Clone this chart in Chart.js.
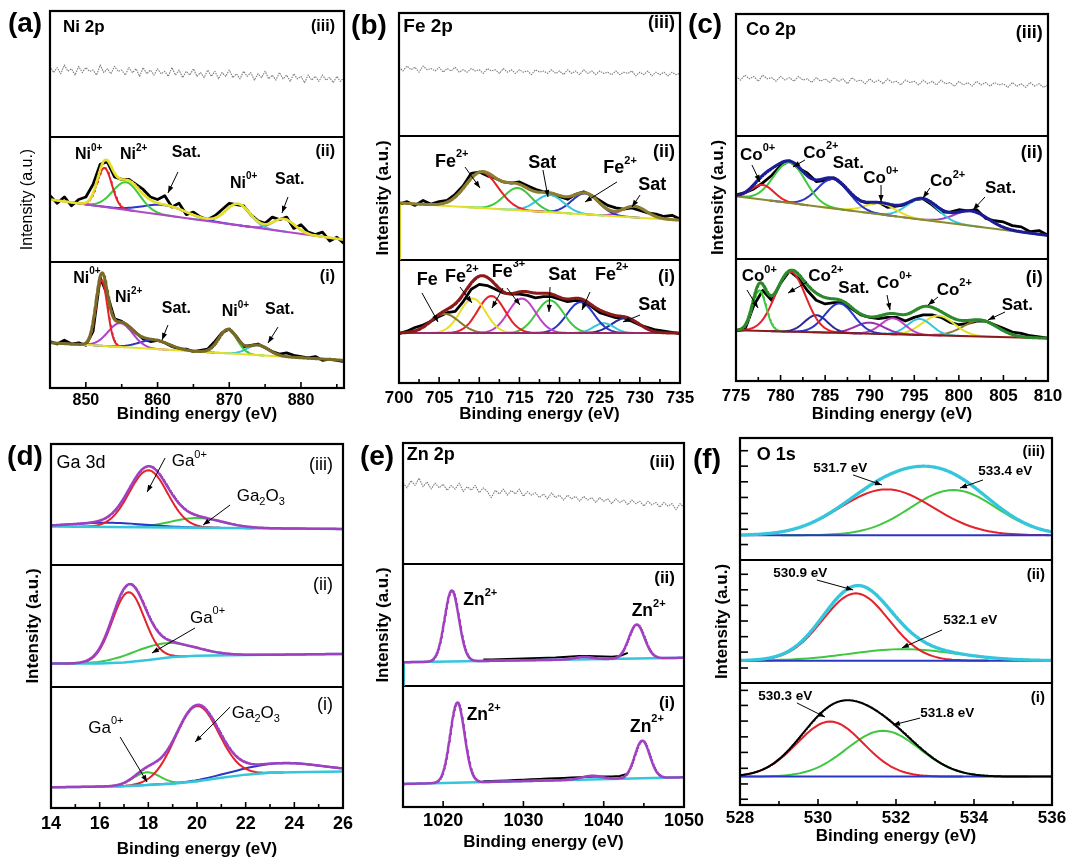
<!DOCTYPE html>
<html><head><meta charset="utf-8">
<script src="https://cdn.jsdelivr.net/npm/chart.js@4.4.1/dist/chart.umd.min.js"></script>
<style>
html,body{margin:0;padding:0;background:#fff;}
body{width:1066px;height:859px;position:relative;overflow:hidden;}
canvas{position:absolute;}
</style></head><body>
<canvas id="pa"></canvas><canvas id="pb"></canvas><canvas id="pc"></canvas>
<canvas id="pd"></canvas><canvas id="pe"></canvas><canvas id="pf"></canvas>
<script>
// ===================== DATA (values in units of one sub-panel height) =====================
// ---- (a) Ni 2p ----
const niRange = [845, 886];
const niIII_noise = [0.56,0.51,0.55,0.50,0.57,0.52,0.54,0.49,0.56,0.51,0.55,0.52,0.53,0.49,0.57,0.51,0.54,0.50,0.56,0.52,0.53,0.49,0.55,0.51,0.54,0.48,0.55,0.50,0.53,0.49,0.54,0.50,0.52,0.48,0.55,0.49,0.53,0.47,0.52,0.49,0.54,0.48,0.51,0.47,0.53,0.48,0.52,0.46,0.51,0.48,0.53,0.47,0.50,0.46,0.52,0.48,0.51,0.45,0.50,0.47,0.52,0.46,0.49,0.45,0.51,0.46,0.49,0.44,0.50,0.46,0.48,0.43,0.49,0.45,0.48,0.44,0.49,0.45,0.47,0.43,0.48,0.44,0.47];
const niII_data = [0.53,0.47,0.52,0.45,0.50,0.52,0.62,0.78,0.80,0.68,0.66,0.66,0.62,0.58,0.52,0.50,0.53,0.44,0.47,0.38,0.40,0.36,0.34,0.37,0.42,0.47,0.46,0.45,0.38,0.33,0.31,0.36,0.34,0.36,0.27,0.30,0.24,0.22,0.24,0.17,0.20,0.15];
const niII_bg = [0.50, 0.18];
const niII_cen = [852.6, 855.6, 861.0, 871.2, 877.6];
const niII_hgt = [0.31, 0.22, 0.08, 0.17, 0.10];
const niII_fwhm = [2.4, 4.4, 7.0, 4.0, 3.6];
const niI_data = [0.37,0.35,0.38,0.35,0.36,0.34,0.45,0.88,0.74,0.55,0.53,0.49,0.44,0.39,0.37,0.38,0.36,0.33,0.31,0.31,0.29,0.30,0.31,0.37,0.44,0.47,0.41,0.33,0.34,0.35,0.32,0.29,0.27,0.28,0.26,0.25,0.24,0.25,0.22,0.23,0.22,0.21];
const niI_bg = [0.36, 0.22];
const niI_cen = [852.2, 854.8, 859.5, 869.8, 874.0];
const niI_hgt = [0.52, 0.19, 0.07, 0.19, 0.08];
const niI_fwhm = [1.9, 4.0, 5.0, 3.0, 3.5];

// ---- (b) Fe 2p ----
const feRange = [700, 735];
const feIII_noise = [0.56,0.53,0.57,0.54,0.56,0.52,0.57,0.54,0.55,0.53,0.56,0.52,0.55,0.53,0.56,0.52,0.54,0.52,0.55,0.53,0.54,0.51,0.55,0.53,0.54,0.51,0.55,0.52,0.54,0.51,0.54,0.52,0.53,0.50,0.54,0.52,0.53,0.51,0.54,0.51,0.53,0.50,0.54,0.51,0.53,0.50,0.54,0.51,0.53,0.50,0.53,0.51,0.52,0.50,0.53,0.50,0.52,0.51,0.53,0.49,0.52,0.50,0.53,0.49,0.52,0.50,0.52,0.49,0.52,0.50,0.51];
const feII_data = [0.45,0.47,0.44,0.48,0.45,0.47,0.48,0.53,0.60,0.70,0.71,0.68,0.66,0.63,0.62,0.63,0.60,0.57,0.55,0.53,0.51,0.49,0.53,0.55,0.52,0.48,0.44,0.42,0.41,0.42,0.40,0.38,0.37,0.35,0.36,0.33];
const feII_bg = [0.46, 0.32];
const feII_cen = [710.3, 714.8, 718.8, 723.2, 729.3];
const feII_hgt = [0.29, 0.18, 0.14, 0.17, 0.09];
const feII_fwhm = [4.8, 4.0, 4.0, 4.0, 3.5];
const feI_data = [0.40,0.42,0.45,0.47,0.50,0.54,0.57,0.58,0.66,0.76,0.80,0.79,0.76,0.73,0.72,0.72,0.71,0.69,0.70,0.70,0.68,0.66,0.67,0.66,0.62,0.57,0.55,0.53,0.53,0.50,0.47,0.45,0.43,0.42,0.41,0.40];
const feI_bg = [0.405, 0.405];
const feI_cen = [705.7, 709.2, 711.5, 715.3, 718.8, 722.6, 725.5, 728.2];
const feI_hgt = [0.155, 0.28, 0.30, 0.28, 0.265, 0.25, 0.08, 0.12];
const feI_fwhm = [4.2, 3.8, 4.0, 4.0, 4.0, 4.0, 3.0, 4.0];

// ---- (c) Co 2p ----
const coRange = [775, 810];
const coIII_noise = [0.49,0.46,0.50,0.47,0.49,0.45,0.50,0.47,0.48,0.45,0.49,0.46,0.48,0.45,0.49,0.46,0.47,0.44,0.48,0.45,0.47,0.44,0.48,0.45,0.47,0.43,0.48,0.45,0.46,0.43,0.47,0.44,0.46,0.43,0.47,0.44,0.45,0.42,0.46,0.44,0.45,0.42,0.46,0.43,0.45,0.42,0.46,0.43,0.44,0.41,0.45,0.42,0.44,0.41,0.45,0.42,0.44,0.41,0.44,0.42,0.43,0.40,0.44,0.41,0.43,0.40,0.44,0.41,0.43,0.40,0.42];
const coII_data = [0.52,0.54,0.57,0.62,0.68,0.76,0.80,0.74,0.70,0.63,0.64,0.66,0.60,0.52,0.47,0.45,0.46,0.42,0.43,0.44,0.48,0.49,0.44,0.38,0.38,0.40,0.39,0.40,0.33,0.31,0.30,0.27,0.26,0.22,0.23,0.19];
const coII_bg = [0.51, 0.19];
const coII_cen = [778.0, 781.0, 785.9, 791.2, 795.9, 801.4];
const coII_hgt = [0.12, 0.33, 0.24, 0.09, 0.17, 0.12];
const coII_fwhm = [3.0, 4.2, 4.2, 4.0, 4.0, 4.5];
const coI_data = [0.41,0.42,0.62,0.74,0.66,0.80,0.90,0.84,0.74,0.66,0.63,0.64,0.64,0.59,0.54,0.52,0.51,0.52,0.52,0.49,0.52,0.54,0.54,0.52,0.48,0.46,0.47,0.49,0.49,0.46,0.43,0.40,0.39,0.37,0.36,0.35];
const coI_bg = [0.415, 0.35];
const coI_cen = [777.6, 781.1, 784.0, 786.6, 790.0, 792.6, 795.6, 797.7, 802.4];
const coI_hgt = [0.33, 0.49, 0.14, 0.24, 0.09, 0.13, 0.13, 0.16, 0.13];
const coI_fwhm = [1.8, 4.0, 3.0, 3.8, 3.8, 3.2, 3.2, 4.2, 4.5];

// ---- (d) Ga 3d ----
const gaRange = [14, 26];
const gaIII_bgX = [14, 26];
const gaIII_bgY = [0.32, 0.30];
const gaIII_cen = [18.0, 16.4, 20.0];
const gaIII_hgt = [0.47, 0.035, 0.08];
const gaIII_fwhm = [1.85, 3.5, 2.5];
const gaII_bgX = [14, 16, 17, 18, 19, 20, 22, 26];
const gaII_bgY = [0.19, 0.19, 0.20, 0.22, 0.245, 0.255, 0.26, 0.27];
const gaII_cen = [17.18, 18.6];
const gaII_hgt = [0.575, 0.12];
const gaII_fwhm = [1.55, 3.0];
const gaI_bgX = [14, 17, 19, 20, 21, 22, 23, 24, 26];
const gaI_bgY = [0.17, 0.18, 0.20, 0.22, 0.25, 0.275, 0.29, 0.295, 0.30];
const gaI_cen = [19.99, 17.93, 23.5];
const gaI_hgt = [0.62, 0.105, 0.077];
const gaI_fwhm = [2.1, 1.3, 4.0];

// ---- (e) Zn 2p ----
const znRange = [1015, 1050];
const znIII_noise = [0.67,0.63,0.69,0.65,0.71,0.64,0.68,0.62,0.67,0.63,0.66,0.61,0.65,0.62,0.67,0.60,0.64,0.61,0.65,0.59,0.63,0.60,0.55,0.61,0.58,0.62,0.57,0.61,0.58,0.62,0.56,0.60,0.57,0.59,0.55,0.58,0.54,0.59,0.55,0.57,0.53,0.57,0.54,0.56,0.52,0.56,0.53,0.55,0.51,0.55,0.52,0.54,0.50,0.54,0.51,0.53,0.49,0.53,0.50,0.52,0.48,0.52,0.49,0.51,0.47,0.51,0.48,0.50,0.45,0.50,0.47];
const znII_bg = [0.193, 0.23];
const znII_cen = [1021.07, 1037.5, 1044.1];
const znII_hgt = [0.585, 0.02, 0.28];
const znII_fwhm = [2.1, 2.5, 2.3];
const znII_data = [0.215,0.215,0.218,0.22,0.222,0.224,0.226,0.228,0.23,0.232,0.236,0.24,0.244,0.244,0.242,0.24,0.238,0.245,0.27];
const znI_bg = [0.19, 0.245];
const znI_cen = [1021.77, 1038.5, 1044.8];
const znI_hgt = [0.66, 0.03, 0.31];
const znI_fwhm = [2.1, 3.0, 2.2];
const znI_data = [0.212,0.214,0.216,0.219,0.222,0.225,0.228,0.231,0.234,0.237,0.24,0.243,0.246,0.25,0.252,0.252,0.252,0.256,0.275];

// ---- (f) O 1s ----
const oRange = [528, 536];
const oIII_bg = [0.205, 0.205];
const oIII_cen = [531.76, 533.47];
const oIII_hgt = [0.375, 0.37];
const oIII_fwhm = [2.8, 2.6];
const oII_bg = [0.18, 0.18];
const oII_cen = [530.97, 532.19];
const oII_hgt = [0.55, 0.094];
const oII_fwhm = [2.0, 3.2];
const oI_bg = [0.232, 0.232];
const oI_cen = [530.31, 531.67];
const oI_hgt = [0.45, 0.375];
const oI_fwhm = [2.0, 2.2];
const oTickOffsets = [[0.047,0.172,0.30,0.43,0.557,0.686,0.814,0.937],[0.12,0.25,0.376,0.504,0.632,0.759,0.886],[0.129,0.254,0.383,0.514,0.642,0.770,0.896]];

// ---- annotation text (x in eV, y in panel units: (i)=0-1, (ii)=1-2, (iii)=2-3) ----
const niLabels = [['Ni 2p',846.81,2.873,17],['(iii)',884.74,2.873,16,'r'],['(ii)',884.74,1.878,16,'r'],['(i)',884.74,0.883,16,'r'],
 ['Ni^{0+}',848.49,1.854],['Ni^{2+}',854.76,1.854],['Sat.',861.97,1.870],['Ni^{0+}',870.10,1.629],['Sat.',876.38,1.655],
 ['Ni^{0+}',848.25,0.873],['Ni^{2+}',854.06,0.719],['Sat.',860.58,0.634],['Ni^{0+}',868.94,0.607],['Sat.',874.98,0.621]];
const niArrows = [[862.85,1.719,861.45,1.552],[878.19,1.520,877.35,1.393],[861.45,0.501,860.62,0.382],[876.80,0.485,875.40,0.358]];
const feLabels = [['Fe 2p',700.54,2.889,19],['(iii)',734.38,2.919,18,'r'],['(ii)',734.38,1.873,18,'r'],['(i)',734.38,0.859,18,'r'],
 ['Fe^{2+}',704.48,1.794],['Sat',716.11,1.781],['Fe^{2+}',725.45,1.741],['Sat',729.81,1.605],
 ['Fe',702.20,0.835],['Fe^{2+}',705.73,0.862],['Fe^{3+}',711.54,0.903],['Sat',718.60,0.876],['Fe^{2+}',724.41,0.876],['Sat',729.81,0.632]];
const feArrows = [[708.22,1.751,710.09,1.581],[717.93,1.727,718.56,1.508],[727.15,1.630,723.17,1.468],[730.02,1.524,729.02,1.427],
 [702.86,0.730,704.86,0.495],[707.60,0.778,709.09,0.649],[712.95,0.770,711.58,0.608],[713.45,0.770,715.07,0.632],[718.81,0.778,718.68,0.576],[723.79,0.738,722.79,0.592],[730.02,0.551,727.90,0.495]];
const coLabels = [['Co 2p',776.12,2.869,18],['(iii)',809.40,2.845,18,'r'],['(ii)',809.40,1.864,18,'r'],['(i)',809.40,0.842,18,'r'],
 ['Co^{0+}',775.45,1.847],['Co^{2+}',782.55,1.861],['Sat.',785.85,1.780],['Co^{0+}',789.28,1.657],['Co^{2+}',796.76,1.629],['Sat.',802.93,1.575],
 ['Co^{0+}',775.64,0.853],['Co^{2+}',783.11,0.853],['Sat.',786.48,0.758],['Co^{0+}',790.78,0.799],['Co^{2+}',797.51,0.744],['Sat.',804.81,0.621]];
const coArrows = [[776.79,1.766,777.69,1.627],[782.74,1.807,781.39,1.749],[791.27,1.602,791.27,1.463],[796.76,1.578,795.98,1.496],[802.93,1.504,801.59,1.398],
 [776.23,0.744,777.47,0.597],[782.97,0.809,780.83,0.719],[791.94,0.703,792.28,0.580],[797.66,0.687,796.54,0.621],[805.18,0.564,803.27,0.499]];
const gaLabels = [['Ga 3d',14.23,2.841,18],['(iii)',25.59,2.827,18,'r'],['(ii)',25.59,1.838,18,'r'],['(i)',25.59,0.849,18,'r'],
 ['Ga^{0+}',18.96,2.854],['Ga_{2}O_{3}',21.63,2.566],['Ga^{0+}',19.71,1.563],['Ga^{0+}',15.53,0.657],['Ga_{2}O_{3}',21.43,0.780]];
const gaArrows = [[18.69,2.885,17.95,2.604],[21.36,2.497,20.25,2.332],[19.92,1.484,18.15,1.277],[16.84,0.585,17.95,0.214],[21.36,0.832,19.92,0.544]];
const znLabels = [['Zn 2p',1015.46,2.901,18],['(iii)',1048.88,2.843,17,'r'],['(ii)',1048.88,1.887,17,'r'],['(i)',1048.88,0.857,17,'r'],
 ['Zn^{2+}',1022.51,1.706],['Zn^{2+}',1043.48,1.610],['Zn^{2+}',1022.93,0.758],['Zn^{2+}',1043.27,0.662]];
const znArrows = [];
const oLabels = [['O 1s',528.43,2.861,18],['(iii)',535.82,2.886,15,'r'],['(ii)',535.82,1.880,15,'r'],['(i)',535.82,0.875,15,'r'],
 ['531.7 eV',529.88,2.752],['533.4 eV',534.11,2.725],['530.9 eV',528.85,1.894],['532.1 eV',533.21,1.512],['530.3 eV',528.47,0.885],['531.8 eV',532.62,0.750]];
const oArrows = [[530.90,2.698,531.64,2.616],[534.23,2.657,533.64,2.591],[529.97,1.839,530.90,1.758],[533.18,1.431,532.15,1.283],[529.46,0.834,530.18,0.719],[532.62,0.711,531.92,0.654]];

// ===================== STYLE =====================
const FONT = '"Liberation Sans", Arial, Helvetica, sans-serif';
const RED='#e3222a', GREEN='#3fc83f', BLUE='#2a36c4', CYAN='#36c6dc', MAG='#c040c8', PURP='#a040c0', YEL='#e6df2a', OLIVE='#8a7a2c', NAVY='#2a2a96';
Chart.defaults.font.family = FONT;
Chart.defaults.color = '#000';

function lin(x, bx, by) {
  if (x <= bx[0]) return by[0];
  for (let i = 1; i < bx.length; i++) if (x <= bx[i]) { const t = (x - bx[i-1]) / (bx[i] - bx[i-1]); return by[i-1] + t * (by[i] - by[i-1]); }
  return by[by.length - 1];
}
function peak(x, c, h, w) { return h * Math.exp(-4 * Math.LN2 * (x - c) * (x - c) / (w * w)); }

function addSub(out, s, range) {
  const off = s.off;
  const bx = s.bgX || range;
  const bgAt = x => lin(x, bx, s.bgY);
  if (s.noise) out.push({data: s.noise.map((v, i) => ({x: range[0] + i * 0.5, y: off + v})), borderColor: '#7c7c7c', borderWidth: 1.1, borderDash: [1.5, 1], order: 6});
  if (s.data) out.push({data: s.data.map((v, i) => ({x: s.dataX0 + i, y: off + v})), borderColor: '#000', borderWidth: s.dataW || 2, order: 5});
  if (s.cen && s.cols) {
    s.cen.forEach((c, k) => {
      const w = s.fwhm[k], pts = [];
      for (let j = 0; j <= 80; j++) { const x = c - 1.7 * w + j * 3.4 * w / 80; if (x < range[0] || x > range[1]) continue; pts.push({x, y: off + bgAt(x) + peak(x, c, s.hgt[k], w)}); }
      out.push({data: pts, borderColor: s.cols[k], borderWidth: 2, order: 4});
    });
  }
  if (s.bgCol) out.push({data: bx.map((x, i) => ({x, y: off + s.bgY[i]})), borderColor: s.bgCol, borderWidth: s.bgW || 2, order: 3});
  if (s.drop) out.push({data: [{x: range[0], y: off}, {x: range[0], y: off + s.bgY[0]}], borderColor: s.bgCol, borderWidth: 4, order: 3});
  if (s.cen && s.envCol) {
    const pts = [], N = 500;
    for (let j = 0; j <= N; j++) { const x = range[0] + j * (range[1] - range[0]) / N; let y = off + bgAt(x); s.cen.forEach((c, k) => { y += peak(x, c, s.hgt[k], s.fwhm[k]); }); pts.push({x, y}); }
    out.push({data: pts, borderColor: s.envCol, borderWidth: s.envW || 2.5, order: 1});
  }
}

function parseRich(s) {
  const out = []; const re = /([\^_])\{([^}]*)\}/g; let last = 0, m;
  while ((m = re.exec(s))) { if (m.index > last) out.push([0, s.slice(last, m.index)]); out.push([m[1] === '^' ? 1 : -1, m[2]]); last = re.lastIndex; }
  if (last < s.length) out.push([0, s.slice(last)]);
  return out;
}
function drawRich(ctx, s, x, y, size, weight, align) {
  const parts = parseRich(s);
  const fontOf = k => `${weight} ${k === 0 ? size : Math.round(size * 0.62)}px ${FONT}`;
  let w = 0; parts.forEach(p => { ctx.font = fontOf(p[0]); w += ctx.measureText(p[1]).width; });
  let cx = align === 'r' ? x - w : x;
  ctx.textAlign = 'left'; ctx.textBaseline = 'middle';
  parts.forEach(p => { ctx.font = fontOf(p[0]); const dy = p[0] === 1 ? -size * 0.42 : (p[0] === -1 ? size * 0.32 : 0); ctx.fillText(p[1], cx, y + dy); cx += ctx.measureText(p[1]).width; });
}
function arrow(ctx, x1, y1, x2, y2) {
  ctx.strokeStyle = '#000'; ctx.fillStyle = '#000'; ctx.lineWidth = 1;
  ctx.beginPath(); ctx.moveTo(x1, y1); ctx.lineTo(x2, y2); ctx.stroke();
  const a = Math.atan2(y2 - y1, x2 - x1), L = 7, W = 2.6;
  ctx.beginPath(); ctx.moveTo(x2, y2);
  ctx.lineTo(x2 - L * Math.cos(a) + W * Math.sin(a), y2 - L * Math.sin(a) - W * Math.cos(a));
  ctx.lineTo(x2 - L * Math.cos(a) - W * Math.sin(a), y2 - L * Math.sin(a) + W * Math.cos(a));
  ctx.closePath(); ctx.fill();
}
const isMajor = (v, m) => Math.abs(v / m - Math.round(v / m)) < 1e-6;

function decor(p) {
  return {id: 'decor_' + p.id, afterDraw(chart) {
    const {ctx, chartArea: a} = chart; const xs = chart.scales.x, ys = chart.scales.y;
    ctx.save();
    ctx.strokeStyle = '#000'; ctx.lineWidth = 1.6;
    xs.ticks.forEach(t => { const px = xs.getPixelForValue(t.value); if (px < a.left + 2 || px > a.right - 2) return; const L = t.label !== '' ? 6 : 4; ctx.beginPath(); ctx.moveTo(px, a.bottom); ctx.lineTo(px, a.bottom - L); ctx.stroke(); });
    if (p.yTicks) p.yTicks.forEach((arr, b) => arr.forEach(v => { const py = ys.getPixelForValue(b + v); ctx.beginPath(); ctx.moveTo(a.left, py); ctx.lineTo(a.left + 8, py); ctx.stroke(); }));
    ctx.lineWidth = 2.2; ctx.strokeRect(a.left, a.top, a.right - a.left, a.bottom - a.top);
    ctx.fillStyle = '#000';
    p.labels.forEach(L => drawRich(ctx, L[0], xs.getPixelForValue(L[1]), ys.getPixelForValue(L[2]), L[3] || p.labelSize, L[3] ? p.headWeight : p.labelWeight, L[4]));
    p.arrows.forEach(A => arrow(ctx, xs.getPixelForValue(A[0]), ys.getPixelForValue(A[1]), xs.getPixelForValue(A[2]), ys.getPixelForValue(A[3])));
    ctx.font = `bold 28px ${FONT}`; ctx.textAlign = 'center'; ctx.textBaseline = 'middle'; ctx.fillStyle = '#000';
    ctx.fillText(p.letter, p.letterPos[0], p.letterPos[1]);
    ctx.restore();
  }};
}

function buildPanel(p) {
  const cv = document.getElementById(p.id);
  cv.width = p.box[2]; cv.height = p.box[3];
  cv.style.left = p.box[0] + 'px'; cv.style.top = p.box[1] + 'px';
  cv.style.width = p.box[2] + 'px'; cv.style.height = p.box[3] + 'px';
  const datasets = [];
  p.subs.forEach(s => addSub(datasets, s, p.range));
  new Chart(cv, {
    type: 'line',
    data: {datasets},
    options: {
      responsive: false, animation: false, events: [],
      layout: {padding: {left: 0, top: p.padTop, right: p.padRight, bottom: 0}, autoPadding: false},
      elements: {point: {radius: 0}, line: {tension: 0, fill: false, borderJoinStyle: 'round'}},
      plugins: {legend: {display: false}, tooltip: {enabled: false}},
      scales: {
        x: {type: 'linear', position: 'bottom', min: p.range[0], max: p.range[1],
          grid: {display: false, drawTicks: false}, border: {display: false},
          ticks: {stepSize: p.step, includeBounds: false, autoSkip: false, maxRotation: 0, padding: p.tickPad,
            font: {size: p.tickSize, weight: 'bold'}, color: '#000', callback: v => isMajor(v, p.major) ? String(Math.round(v)) : ''},
          title: {display: true, text: 'Binding energy (eV)', font: {size: 17, weight: 'bold'}, color: '#000', padding: {top: 0, bottom: p.xTitlePad}},
          afterFit: s => { s.height = p.xH; s.paddingLeft = 0; s.paddingRight = 0; }},
        y: {type: 'linear', position: 'left', min: 0, max: 3,
          grid: {drawTicks: false, lineWidth: 2, color: c => (c.tick && (c.tick.value === 1 || c.tick.value === 2)) ? '#000' : 'rgba(0,0,0,0)'},
          border: {display: false},
          ticks: {display: false, stepSize: 1},
          title: {display: true, text: 'Intensity (a.u.)', font: {size: p.yTitleSize, weight: p.yTitleWeight}, color: '#000', padding: {top: p.yTitlePad, bottom: 0}},
          afterFit: s => { s.width = p.yW; }}
      }
    },
    plugins: [decor(p)]
  });
}

// ===================== PANELS =====================
buildPanel({id: 'pa', box: [0, 0, 360, 432], yW: 50, padTop: 11, padRight: 16, xH: 44, range: niRange, step: 5, major: 10,
  tickSize: 16, tickPad: 3, xTitlePad: 7, yTitleSize: 16, yTitleWeight: 'normal', yTitlePad: 18,
  labels: niLabels, arrows: niArrows, labelSize: 16, labelWeight: 'bold', headWeight: 'bold', letter: '(a)', letterPos: [25, 24],
  subs: [
    {off: 2, noise: niIII_noise},
    {off: 1, bgY: niII_bg, bgCol: '#b048c8', cen: niII_cen, hgt: niII_hgt, fwhm: niII_fwhm, cols: [RED, GREEN, BLUE, CYAN, '#a050d0'], envCol: YEL, data: niII_data, dataX0: 845, dataW: 2.8},
    {off: 0, bgY: niI_bg, bgCol: YEL, cen: niI_cen, hgt: niI_hgt, fwhm: niI_fwhm, cols: [RED, '#b040d0', BLUE, GREEN, CYAN], envCol: '#7a6a28', envW: 3, data: niI_data, dataX0: 845, dataW: 2.8}
  ]});

buildPanel({id: 'pb', box: [345, 0, 355, 432], yW: 54, padTop: 13, padRight: 20, xH: 49, range: feRange, step: 2.5, major: 5,
  tickSize: 17, tickPad: 5, xTitlePad: 7, yTitleSize: 17, yTitleWeight: 'bold', yTitlePad: 28,
  labels: feLabels, arrows: feArrows, labelSize: 18, labelWeight: 'bold', headWeight: 'bold', letter: '(b)', letterPos: [24, 26],
  subs: [
    {off: 2, noise: feIII_noise},
    {off: 1, bgY: feII_bg, bgCol: YEL, drop: true, cen: feII_cen, hgt: feII_hgt, fwhm: feII_fwhm, cols: [RED, GREEN, CYAN, BLUE, MAG], envCol: '#8c7e2e', envW: 3, data: feII_data, dataX0: 700, dataW: 2.8},
    {off: 0, bgY: feI_bg, bgCol: '#9a2a6a', cen: feI_cen, hgt: feI_hgt, fwhm: feI_fwhm, cols: [OLIVE, YEL, RED, MAG, GREEN, BLUE, CYAN, NAVY], envCol: '#8b1a1a', envW: 3, data: feI_data, dataX0: 700, dataW: 2.8}
  ]});

buildPanel({id: 'pc', box: [680, 0, 386, 432], yW: 56, padTop: 14, padRight: 18, xH: 51, range: coRange, step: 2.5, major: 5,
  tickSize: 17, tickPad: 5, xTitlePad: 7, yTitleSize: 17, yTitleWeight: 'bold', yTitlePad: 28,
  labels: coLabels, arrows: coArrows, labelSize: 17, labelWeight: 'bold', headWeight: 'bold', letter: '(c)', letterPos: [25, 25],
  subs: [
    {off: 2, noise: coIII_noise},
    {off: 1, bgY: coII_bg, bgCol: '#8a8a32', cen: coII_cen, hgt: coII_hgt, fwhm: coII_fwhm, cols: [RED, GREEN, BLUE, YEL, CYAN, '#a040c8'], envCol: '#1c1c96', envW: 3, data: coII_data, dataX0: 775, dataW: 2.8},
    {off: 0, bgY: coI_bg, bgCol: '#8b1a1a', cen: coI_cen, hgt: coI_hgt, fwhm: coI_fwhm, cols: [GREEN, RED, NAVY, BLUE, '#9a30b0', MAG, CYAN, YEL, OLIVE], envCol: '#2a8a2a', envW: 3, data: coI_data, dataX0: 775, dataW: 2.8}
  ]});

buildPanel({id: 'pd', box: [0, 425, 360, 445], yW: 51, padTop: 19, padRight: 17, xH: 62, range: gaRange, step: 1, major: 2,
  tickSize: 18, tickPad: 5, xTitlePad: 10, yTitleSize: 17, yTitleWeight: 'bold', yTitlePad: 23,
  labels: gaLabels, arrows: gaArrows, labelSize: 17, labelWeight: 'normal', headWeight: 'normal', letter: '(d)', letterPos: [25, 32],
  subs: [
    {off: 2, bgX: gaIII_bgX, bgY: gaIII_bgY, bgCol: CYAN, bgW: 2.5, cen: gaIII_cen, hgt: gaIII_hgt, fwhm: gaIII_fwhm, cols: [RED, BLUE, GREEN], envCol: PURP},
    {off: 1, bgX: gaII_bgX, bgY: gaII_bgY, bgCol: CYAN, bgW: 2.5, cen: gaII_cen, hgt: gaII_hgt, fwhm: gaII_fwhm, cols: [RED, GREEN], envCol: PURP},
    {off: 0, bgX: gaI_bgX, bgY: gaI_bgY, bgCol: CYAN, bgW: 2.5, cen: gaI_cen, hgt: gaI_hgt, fwhm: gaI_fwhm, cols: [RED, GREEN, BLUE], envCol: PURP}
  ]});

buildPanel({id: 'pe', box: [345, 425, 360, 445], yW: 58, padTop: 18, padRight: 21, xH: 63, range: znRange, step: 5, major: 10,
  tickSize: 18, tickPad: 3, xTitlePad: 17, yTitleSize: 17, yTitleWeight: 'bold', yTitlePad: 28,
  labels: znLabels, arrows: znArrows, labelSize: 17.5, labelWeight: 'bold', headWeight: 'bold', letter: '(e)', letterPos: [32, 32],
  subs: [
    {off: 2, noise: znIII_noise},
    {off: 1, bgY: znII_bg, bgCol: CYAN, bgW: 2.5, drop: true, cen: znII_cen, hgt: znII_hgt, fwhm: znII_fwhm, envCol: PURP, data: znII_data, dataX0: 1025, dataW: 2},
    {off: 0, bgY: znI_bg, bgCol: CYAN, bgW: 2.5, cen: znI_cen, hgt: znI_hgt, fwhm: znI_fwhm, envCol: PURP, data: znI_data, dataX0: 1025, dataW: 2}
  ]});

buildPanel({id: 'pf', box: [680, 425, 386, 445], yW: 60, padTop: 13, padRight: 14, xH: 65, range: oRange, step: 1, major: 2,
  tickSize: 17, tickPad: 3, xTitlePad: 23, yTitleSize: 17, yTitleWeight: 'bold', yTitlePad: 32,
  labels: oLabels, arrows: oArrows, labelSize: 13.5, labelWeight: 'bold', headWeight: 'bold', letter: '(f)', letterPos: [27, 35], yTicks: oTickOffsets,
  subs: [
    {off: 2, bgY: oIII_bg, bgCol: BLUE, cen: oIII_cen, hgt: oIII_hgt, fwhm: oIII_fwhm, cols: [RED, GREEN], envCol: CYAN, envW: 3.2},
    {off: 1, bgY: oII_bg, bgCol: BLUE, cen: oII_cen, hgt: oII_hgt, fwhm: oII_fwhm, cols: [RED, GREEN], envCol: CYAN, envW: 3.2},
    {off: 0, bgY: oI_bg, bgCol: BLUE, cen: oI_cen, hgt: oI_hgt, fwhm: oI_fwhm, cols: [RED, GREEN], envCol: '#000', envW: 2}
  ]});
</script>
</body></html>
